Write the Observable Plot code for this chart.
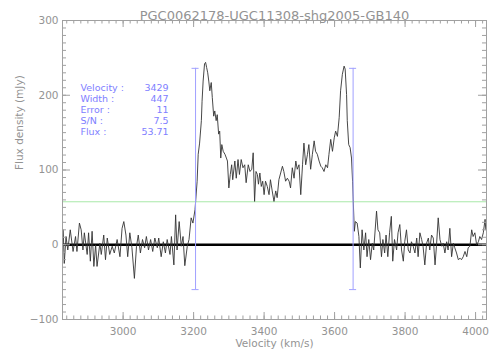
<!DOCTYPE html>
<html><head><meta charset="utf-8">
<script src="https://cdn.jsdelivr.net/npm/d3@7"></script>
<script src="https://cdn.jsdelivr.net/npm/@observablehq/plot@0.6"></script>
<style>body{margin:0;background:#fff;}</style>
</head><body><div id="chart"></div>
<script>
const title = "PGC0062178-UGC11308-shg2005-GB140";
const xLabel = "Velocity (km/s)";
const yLabel = "Flux density (mJy)";
const velocity = [2830,2833,2838,2843,2850,2858,2865,2869,2876,2881,2886,2890,2898,2902,2907,2912,2917,2922,2926,2934,2938,2945,2950,2955,2962,2969,2975,2983,2991,2997,3002,3008,3013,3019,3025,3032,3038,3043,3049,3055,3061,3066,3072,3078,3084,3090,3097,3101,3108,3114,3120,3125,3133,3137,3144,3149,3153,3159,3165,3170,3175,3182,3187,3193,3198,3204,
3210,3213,3217,3222,3224,3227,3231,3234,3237,3240,3243,3246,3250,3253,3257,3260,3264,3267,3271,3274,3277,3280,3284,3289,3293,3296,3300,3304,3308,3311,3317,3321,3326,3330,3335,3340,3345,3349,3355,3360,3365,3369,3373,3377,3381,3384,3388,3392,3396,3400,3404,3409,3414,3418,3423,3428,3433,3437,3442,3447,3452,3456,3461,
3466,3471,3475,3480,3485,3490,3494,3499,3504,3509,3513,3518,3523,3527,3532,3537,3542,3546,3551,3556,3561,3565,3570,3575,3580,3584,3589,3594,3599,3603,3608,3613,3617,3622,3627,3630,3634,3636,3640,3644,3648,3651,3653,3656,
3659,3664,3669,3673,3678,3683,3688,3692,3697,3702,3707,3711,3719,3723,3728,3733,3737,3742,3746,3751,3756,3761,3765,3770,3776,3780,3785,3790,3795,3799,3804,3809,3814,3818,3823,3828,3833,3837,3842,3847,3851,3856,3861,3866,3870,3875,3880,3885,3889,3894,3899,3904,3908,3913,3918,3922,3927,3932,3937,3941,3946,3951,3956,3960,3965,3970,3975,3979,3984,3989,3993,3998,4003,4008,4012,4017,4022,4027,4029];
const flux = [20,-25,11,-7,20,-9,11,-9,29,20,-7,16,-13,16,-22,18,-29,0,-29,2,-13,13,-20,9,-13,-2,-11,7,-16,22,31,13,-16,16,-4,-45,-2,13,-11,7,-4,11,-7,7,-9,9,-4,9,-16,4,-11,7,-13,11,-27,40,-7,31,-2,11,-28,-2,7,36,29,47,
85,121,136,166,192,219,242,244,237,230,219,206,217,197,172,179,166,174,148,152,116,134,125,121,116,112,76,94,107,87,112,89,114,94,114,103,107,83,107,98,101,123,58,98,94,81,96,78,85,67,85,78,67,87,72,58,72,63,87,96,105,98,85,
89,85,76,103,89,112,101,107,67,107,136,107,121,134,101,121,139,125,121,112,105,103,98,107,103,121,141,125,143,152,145,170,206,228,239,235,201,166,134,130,116,85,58,18,
31,29,11,-31,20,-7,16,-16,7,-20,2,-7,45,20,16,-16,7,-11,13,-16,16,38,-22,7,-7,16,27,-7,-22,4,20,-7,-11,4,-2,-11,9,-16,16,7,-2,-27,2,9,-7,13,9,-27,-2,36,7,-2,2,-11,4,-7,22,-16,2,-4,-11,-20,-18,-20,-16,-9,-16,-4,-2,20,11,16,0,4,11,7,16,34,20];
const xMajor = [3000, 3200, 3400, 3600, 3800, 4000];
const yMajor = [-100, 0, 100, 200, 300];
const xDomain = [2828, 4031];
const yDomain = [-100, 300];
const edgeVel = [3205.5, 3652.5];
const edgeFlux = [-60, 236];
const threshold = [57.5];
const statLabels = ["Velocity :", "Width :", "Error :", "S/N :", "Flux :"];
const statValues = ["3429", "447", "11", "7.5", "53.71"];

const spec = velocity.map((v, i) => ({v, f: flux[i]}));
const xMinor = d3.range(2840, 4031, 20);
const yMinor = d3.range(-100, 301, 10);
const bars = edgeVel.flatMap(v => edgeFlux.map(f => ({v, f})));
const gray = "#a0a0a0";
const txt = "#939393";
const blue = "#a0a0ff";
const yTickMaj = 8 / 0.3523, yTickMin = 4 / 0.3523;
const xTickMaj = 7 / 0.7475, xTickMin = 3.5 / 0.7475;
const fmt = d => d < 0 ? "\u2212" + Math.abs(d) : String(d);

const chart = Plot.plot({
  width: 504, height: 360,
  marginLeft: 62, marginRight: 18, marginTop: 20, marginBottom: 41,
  style: {fontFamily: "DejaVu Sans", fontSize: "10.5px", color: txt, background: "#fff", overflow: "visible"},
  x: {domain: xDomain, label: null},
  y: {domain: yDomain, label: null},
  marks: [
    Plot.ruleY(threshold, {stroke: "#a8e8a8", strokeWidth: 1}),
    Plot.ruleY([0], {stroke: "#000", strokeWidth: 2.5}),
    Plot.line(spec, {x: "v", y: "f", stroke: "#333", strokeWidth: 0.9}),
    Plot.ruleX(edgeVel, {y1: edgeFlux[0], y2: edgeFlux[1], stroke: blue, strokeWidth: 1}),
    Plot.ruleY(bars, {y: "f", x1: d => d.v - 10, x2: d => d.v + 10, stroke: blue, strokeWidth: 1}),
    Plot.ruleY(yMinor, {x1: xDomain[0], x2: xDomain[0] + yTickMin, stroke: gray}),
    Plot.ruleY(yMajor, {x1: xDomain[0], x2: xDomain[0] + yTickMaj, stroke: gray}),
    Plot.ruleY(yMinor, {x1: xDomain[1] - yTickMin, x2: xDomain[1], stroke: gray}),
    Plot.ruleY(yMajor, {x1: xDomain[1] - yTickMaj, x2: xDomain[1], stroke: gray}),
    Plot.ruleX(xMinor, {y1: yDomain[0], y2: yDomain[0] + xTickMin, stroke: gray}),
    Plot.ruleX(xMajor, {y1: yDomain[0], y2: yDomain[0] + xTickMaj, stroke: gray}),
    Plot.ruleX(xMinor, {y1: yDomain[1] - xTickMin, y2: yDomain[1], stroke: gray}),
    Plot.ruleX(xMajor, {y1: yDomain[1] - xTickMaj, y2: yDomain[1], stroke: gray}),
    Plot.frame({stroke: gray}),
    Plot.axisX(xMajor, {tickSize: 0, tickPadding: 8, fill: txt, tickFormat: fmt}),
    Plot.axisY(yMajor, {tickSize: 0, tickPadding: 4, fill: txt, tickFormat: fmt}),
    Plot.text([title], {frameAnchor: "top", dy: -10, fontSize: 13, fill: txt}),
    Plot.text([xLabel], {frameAnchor: "bottom", dy: 27, fontSize: 10.5, fill: txt}),
    Plot.text([yLabel], {frameAnchor: "left", dx: -43, rotate: -90, fontSize: 10.5, fill: txt}),
    Plot.text(statLabels, {x: 2879, y: (d, i) => 210 - i * 14.8, textAnchor: "start", fill: "#8080ff", fontSize: 9.5}),
    Plot.text(statValues, {x: 3129, y: (d, i) => 210 - i * 14.8, textAnchor: "end", fill: "#8080ff", fontSize: 9.5})
  ]
});
document.getElementById("chart").append(chart);
</script>
</body></html>
